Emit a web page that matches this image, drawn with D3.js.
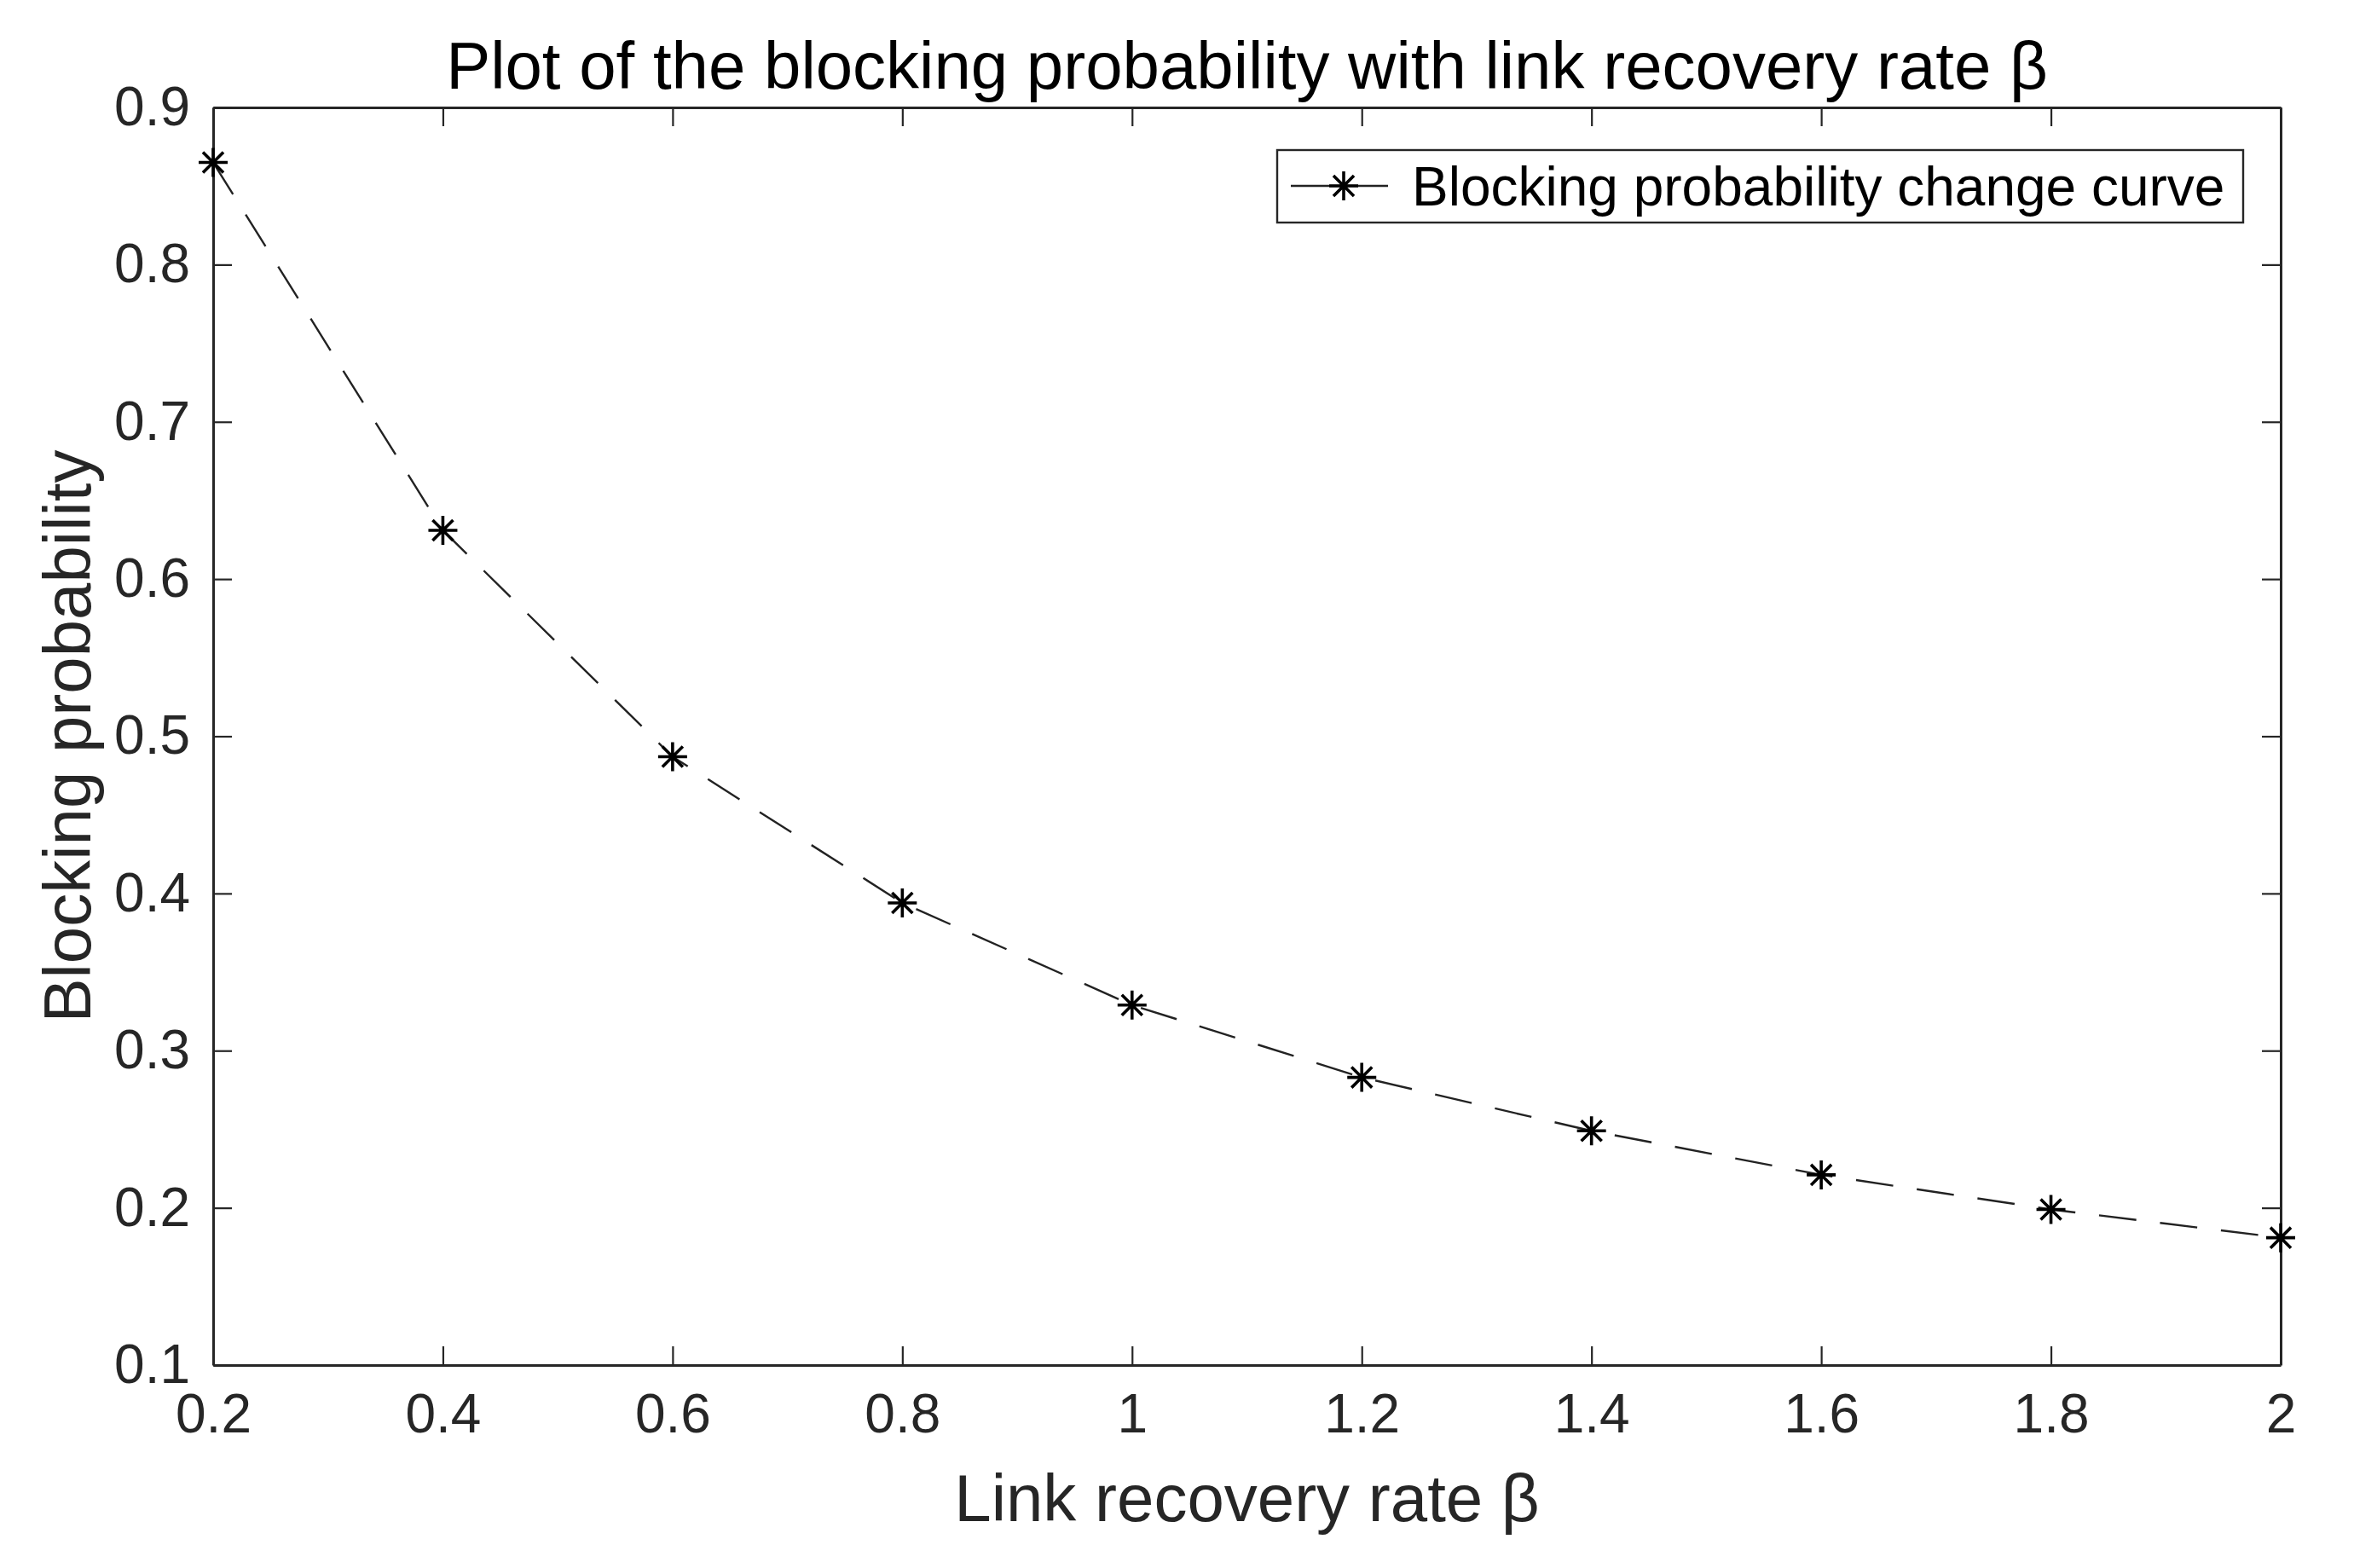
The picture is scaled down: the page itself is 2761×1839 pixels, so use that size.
<!DOCTYPE html>
<html><head><meta charset="utf-8">
<script src="https://cdn.jsdelivr.net/npm/d3@7"></script>
<style>
html,body{margin:0;padding:0;background:#fff;}
svg{display:block;}
text{font-family:"Liberation Sans",Arial,Helvetica,sans-serif;}
</style></head>
<body>
<script>
// ---- data ----
const betaValues = [0.2, 0.4, 0.6, 0.8, 1.0, 1.2, 1.4, 1.6, 1.8, 2.0];
const blockingProb = [0.865, 0.631, 0.487, 0.394, 0.329, 0.283, 0.249, 0.221, 0.199, 0.181];
const xTicks = [0.2, 0.4, 0.6, 0.8, 1, 1.2, 1.4, 1.6, 1.8, 2];
const yTicks = [0.1, 0.2, 0.3, 0.4, 0.5, 0.6, 0.7, 0.8, 0.9];
const xDomain = [0.2, 2];
const yDomain = [0.1, 0.9];
const titleText = "Plot of the blocking probability with link recovery rate β";
const xLabelText = "Link recovery rate β";
const yLabelText = "Blocking probability";
const legendText = "Blocking probability change curve";

// ---- layout ----
const W = 2761, H = 1839;
const m = {left: 250, right: 2761 - 2675, top: 126, bottom: 1839 - 1601};
const axisColor = "#262626";
const tickFont = 64, labelFont = 78;

const svg = d3.select("body").append("svg").attr("width", W).attr("height", H);
const x = d3.scaleLinear().domain(xDomain).range([m.left, W - m.right]);
const y = d3.scaleLinear().domain(yDomain).range([H - m.bottom, m.top]);
const tickLen = 22;

function styleAxis(g) {
  g.selectAll("path").attr("stroke", axisColor).attr("stroke-width", 3);
  g.selectAll("line").attr("stroke", axisColor).attr("stroke-width", 2.2);
  g.selectAll("text").attr("fill", axisColor).style("font-size", tickFont + "px")
    .style("font-family", '"Liberation Sans", Arial, sans-serif');
}
const fmt = d => String(d);

// bottom
const gx = svg.append("g").attr("transform", `translate(0,${H - m.bottom})`)
  .call(d3.axisBottom(x).tickValues(xTicks).tickFormat(fmt).tickSizeInner(-tickLen).tickSizeOuter(0).tickPadding(34));
styleAxis(gx);
// top
const gxt = svg.append("g").attr("transform", `translate(0,${m.top})`)
  .call(d3.axisTop(x).tickValues(xTicks).tickFormat("").tickSizeInner(-tickLen).tickSizeOuter(0));
styleAxis(gxt);
// left
const gy = svg.append("g").attr("transform", `translate(${m.left},0)`)
  .call(d3.axisLeft(y).tickValues(yTicks).tickFormat(fmt).tickSizeInner(-tickLen).tickSizeOuter(0).tickPadding(27));
styleAxis(gy);
// right
const gyr = svg.append("g").attr("transform", `translate(${W - m.right},0)`)
  .call(d3.axisRight(y).tickValues(yTicks).tickFormat("").tickSizeInner(-tickLen).tickSizeOuter(0));
styleAxis(gyr);

// line
const data = betaValues.map((b, i) => ({b, p: blockingProb[i]}));
svg.append("path").datum(data)
  .attr("fill", "none").attr("stroke", "#222").attr("stroke-width", 2.4)
  .attr("stroke-dasharray", "44,28")
  .attr("d", d3.line().x(d => x(d.b)).y(d => y(d.p)));

// asterisk markers
const ms = 17;
function asterisk(g, cx, cy) {
  const s = ms, d = s * 0.7071;
  const p = `M${cx - s},${cy}L${cx + s},${cy}M${cx},${cy - s}L${cx},${cy + s}` +
            `M${cx - d},${cy - d}L${cx + d},${cy + d}M${cx - d},${cy + d}L${cx + d},${cy - d}`;
  g.append("path").attr("d", p).attr("stroke", "#000").attr("stroke-width", 3.6).attr("fill", "none");
}
const mg = svg.append("g");
data.forEach(d => asterisk(mg, x(d.b), y(d.p)));

// title
svg.append("text").attr("x", (m.left + W - m.right) / 2).attr("y", 104)
  .attr("text-anchor", "middle").attr("fill", "#000").style("font-size", labelFont + "px").text(titleText);
// x label
svg.append("text").attr("x", (m.left + W - m.right) / 2).attr("y", 1784)
  .attr("text-anchor", "middle").attr("fill", axisColor).style("font-size", labelFont + "px").text(xLabelText);
// y label
svg.append("text").attr("transform", `translate(106,${(m.top + H - m.bottom) / 2}) rotate(-90)`)
  .attr("text-anchor", "middle").attr("fill", axisColor).style("font-size", labelFont + "px").text(yLabelText);

// legend
const lg = svg.append("g");
lg.append("rect").attr("x", 1498).attr("y", 176).attr("width", 2631 - 1498).attr("height", 85)
  .attr("fill", "#fff").attr("stroke", axisColor).attr("stroke-width", 2.4);
lg.append("line").attr("x1", 1514).attr("x2", 1628).attr("y1", 218).attr("y2", 218)
  .attr("stroke", "#222").attr("stroke-width", 2.4);
asterisk(lg, 1576, 218);
lg.append("text").attr("x", 1656).attr("y", 241).attr("fill", "#000")
  .style("font-size", tickFont + "px").text(legendText);
</script>
</body></html>
